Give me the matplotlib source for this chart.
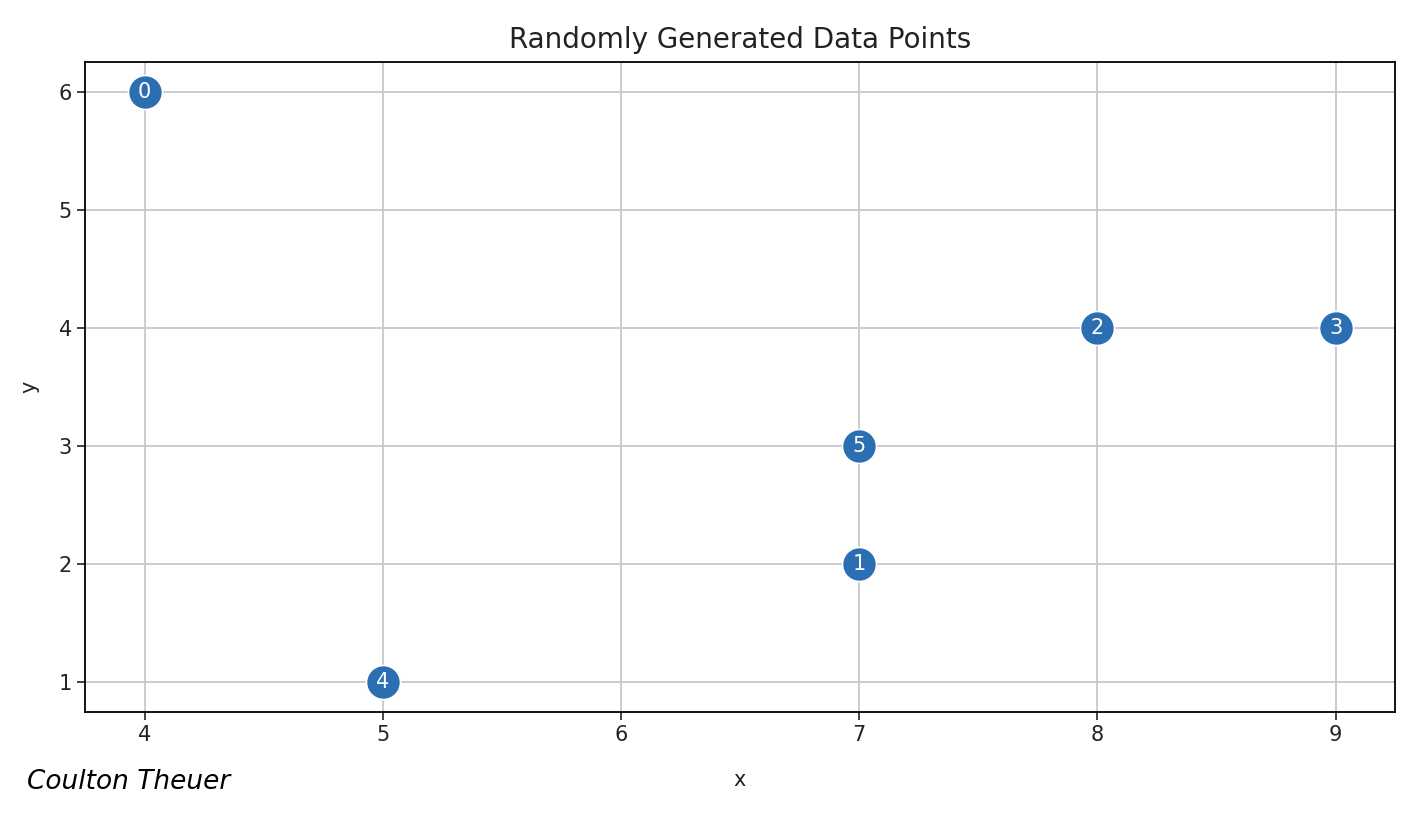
import matplotlib
matplotlib.use("Agg")
import matplotlib.pyplot as plt

# point data (index label, x, y)
labels = ["0", "1", "2", "3", "4", "5"]
x_vals = [4, 7, 8, 9, 5, 7]
y_vals = [6, 2, 4, 4, 1, 3]

fig = plt.figure(figsize=(14.28, 8.18), dpi=100)
ax = fig.add_axes([0.0595, 0.1296, 0.9175, 0.7945])

ax.scatter(x_vals, y_vals, s=600, color="#2b6fb2", edgecolors="white", linewidths=1.2, zorder=3)
for lab, xv, yv in zip(labels, x_vals, y_vals):
    ax.text(xv, yv, lab, color="white", fontsize=15, ha="center", va="center", zorder=4)

ax.set_xlim(3.75, 9.25)
ax.set_ylim(0.75, 6.25)
ax.grid(True, color="#c8c8c8", linewidth=1.3)
ax.set_axisbelow(True)
ax.tick_params(labelsize=15, length=6, width=1.2, colors="#222222")
for sp in ax.spines.values():
    sp.set_linewidth(1.3)

ax.set_title("Randomly Generated Data Points", fontsize=20, pad=10, color="#222222")
ax.set_xlabel("x", fontsize=15, labelpad=18, color="#222222")
ax.set_ylabel("y", fontsize=15, labelpad=14, color="#222222")

# signature
fig.text(0.019, 0.035, "Coulton Theuer", fontsize=19, fontstyle="italic", family="DejaVu Sans", color="black")

fig.savefig("out.png", dpi=100)
